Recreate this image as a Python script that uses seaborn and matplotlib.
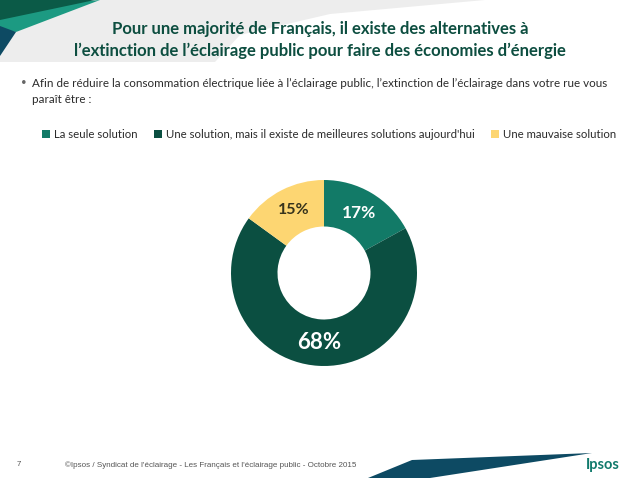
import seaborn as sns
import matplotlib.pyplot as plt
from matplotlib.patches import Polygon
import numpy as np

# données du sondage
categories = ["La seule solution",
              "Une solution, mais il existe de meilleures solutions aujourd'hui",
              "Une mauvaise solution"]
values = [17, 68, 15]
colors = ["#127a67", "#0b4f41", "#fdd672"]
label_colors = ["white", "white", "#36331c"]

title = ("Pour une majorité de Français, il existe des alternatives à\n"
         "l’extinction de l’éclairage public pour faire des économies d’énergie")
question = ("Afin de réduire la consommation électrique liée à l’éclairage public, l’extinction de l’éclairage dans votre rue vous\n"
            "paraît être :")
footer = "©Ipsos / Syndicat de l'éclairage - Les Français et l'éclairage public - Octobre 2015"

sns.set_theme(style="white")
plt.rcParams['font.family'] = ['Lato', 'DejaVu Sans']

W, H = 638, 478
fig = plt.figure(figsize=(W / 100, H / 100), dpi=100)
fig.patch.set_facecolor("white")

# décor du bandeau (coordonnées en pixels)
deco = fig.add_axes([0, 0, 1, 1], zorder=0)
deco.set_xlim(0, W)
deco.set_ylim(H, 0)
deco.axis("off")
deco.add_patch(Polygon([(0, 0), (485, 0), (330, 14), (240, 35), (215, 62), (0, 62)],
                       closed=True, color="#ededed", lw=0))
deco.add_patch(Polygon([(0, 8), (100, 0), (16, 32), (0, 30)], closed=True, color="#1c9a82", lw=0))
deco.add_patch(Polygon([(0, 0), (95, 0), (0, 20)], closed=True, color="#0b5a47", lw=0))
deco.add_patch(Polygon([(0, 26), (16, 32), (0, 56)], closed=True, color="#0d4a63", lw=0))
deco.add_patch(Polygon([(368, 478), (412, 460), (592, 453), (430, 478)],
                       closed=True, color="#0d4a63", lw=0))

fig.text(0.502, 1 - 40 / H, title, ha="center", va="center", fontsize=12,
         fontweight="bold", color="#0d4e40", linespacing=1.4)
fig.text(21 / W, 1 - 83 / H, "•", ha="left", va="center", fontsize=7, color="#666666")
fig.text(32 / W, 1 - 91.5 / H, question, ha="left", va="center", fontsize=8.4,
         color="#2b2b2b", linespacing=1.45)

# anneau
ax = fig.add_axes([(324 - 93) / W, (H - 273 - 93) / H, 186 / W, 186 / H])
wedges, texts, autotexts = ax.pie(values, colors=colors, startangle=90, counterclock=False,
                                  radius=1, wedgeprops=dict(width=0.5, edgecolor="white", linewidth=0),
                                  autopct="%d%%", pctdistance=0.75)
ax.set_xlim(-1, 1)
ax.set_ylim(-1, 1)
ax.set_aspect("equal")
sizes = [12.5, 16, 11.5]
for t, c, s in zip(autotexts, label_colors, sizes):
    t.set_color(c)
    t.set_fontsize(s)
    t.set_fontweight("bold")
# le 15% est placé plus haut dans le quartier jaune
a = np.deg2rad(116)
autotexts[2].set_position((0.75 * np.cos(a), 0.75 * np.sin(a)))

fig.legend(wedges, categories, loc="center", bbox_to_anchor=(329 / W, 1 - 134 / H), ncol=3,
           frameon=False, fontsize=8.2, handlelength=0.7, handleheight=0.7,
           handletextpad=0.4, columnspacing=1.4, labelcolor="#2b2b2b")

fig.text(17 / W, 1 - 465 / H, "7", fontsize=5.8, color="#555555", va="center",
         family=["Liberation Sans"])
fig.text(65 / W, 1 - 465 / H, footer, fontsize=5.8, color="#555555", va="center",
         family=["Liberation Sans"])
fig.text(620 / W, 1 - 465 / H, "Ipsos", fontsize=10.5, color="#117a6c", va="center",
         ha="right", fontweight="bold")

fig.savefig("out.png", dpi=100, facecolor="white")
